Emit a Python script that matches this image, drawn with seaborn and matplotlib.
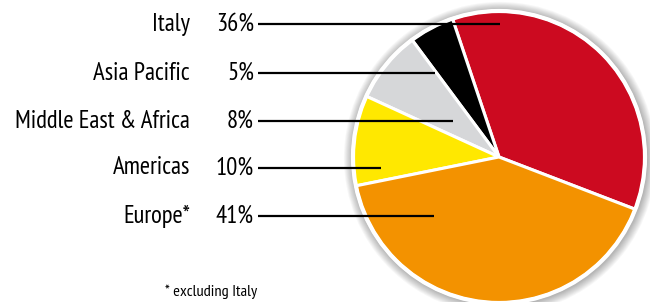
import matplotlib
matplotlib.use("Agg")
import matplotlib.pyplot as plt
import seaborn as sns
from matplotlib.patches import Circle

# data
regions = ["Italy", "Asia Pacific", "Middle East & Africa", "Americas", "Europe*"]
shares = [36, 5, 8, 10, 41]
colors = ["#CC0A20", "#000000", "#D6D7D9", "#FFE800", "#F39200"]
footnote = "* excluding Italy"

sns.set_theme(style="white")
plt.rcParams["font.family"] = ["PT Sans Narrow", "DejaVu Sans"]

W, H = 650, 302
fig = plt.figure(figsize=(W / 100, H / 100), dpi=100)
ax = fig.add_axes([0, 0, 1, 1])

cx, cy, rad = 499, H - 157, 146

# soft shadow round the pie
for i in range(10):
    ax.add_patch(Circle((cx + 1, cy - 1), rad + 2 + i * 0.9, color="#000000",
                        alpha=0.03, lw=0, zorder=0))

ax.pie(shares, colors=colors, startangle=-21, counterclock=True,
       center=(cx, cy), radius=rad, frame=True,
       wedgeprops=dict(edgecolor="white", linewidth=2.2, zorder=2))
ax.add_patch(Circle((cx, cy), rad, fill=False, edgecolor="white", lw=3, zorder=3))

# labels and leader lines (pixel rows, top-down)
row_y = [24, 73, 121, 168, 216]
line_end = [500, 435, 453, 381, 434]
for name, val, py, xe in zip(regions, shares, row_y, line_end):
    y = H - py
    ax.text(190, y, name, ha="right", va="center", fontsize=17.8, color="black")
    ax.text(254, y, f"{val}%", ha="right", va="center", fontsize=17.8, color="black")
    ax.plot([258, xe], [y, y], color="black", lw=1.6, solid_capstyle="butt", zorder=4)

ax.text(211, H - 292, footnote, ha="center", va="center", fontsize=11.8, color="black")

ax.set_xlim(0, W)
ax.set_ylim(0, H)
ax.set_aspect("auto")
ax.axis("off")

fig.savefig("out.png", dpi=100, facecolor="white")
